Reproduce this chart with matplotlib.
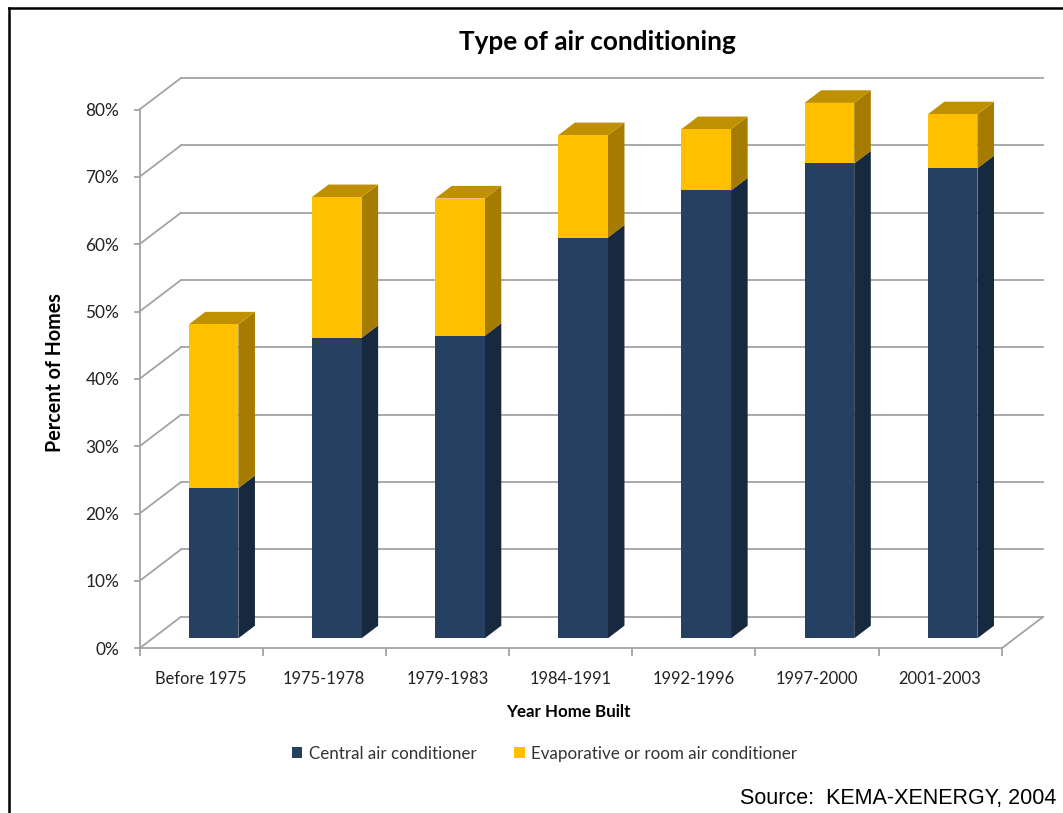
import matplotlib
matplotlib.use("Agg")
import matplotlib.pyplot as plt
from matplotlib.lines import Line2D
import numpy as np

categories = ['Before 1975', '1975-1978', '1979-1983', '1984-1991',
              '1992-1996', '1997-2000', '2001-2003']
central = [22.3, 44.6, 44.9, 59.5, 66.5, 70.5, 69.8]
evaporative = [24.3, 20.9, 20.4, 15.2, 9.1, 9.0, 8.0]
y_ticks = [0, 10, 20, 30, 40, 50, 60, 70, 80]

NAVY = ('#254061', '#17293f')
GOLD = ('#ffc000', '#a67c00', '#bf9000')
GRID = '#a3a3a3'

# oblique offset of the back wall, in axis units
DEPTH_X = 0.337
DEPTH_Y = 4.68
# where the bars stand between the front edge and the wall
BAR_NEAR = 0.30
BAR_FAR = 0.70
BAR_WIDTH = 0.403
BAR_RISE = 0.317 * DEPTH_Y

W, H = 1063, 813


def px_x(x):
    return x / W


def px_y(y):
    return 1 - y / H


def side_face(ax, right, low, high, color):
    # right hand face of a box, running back towards the wall
    dx = (BAR_FAR - BAR_NEAR) * DEPTH_X
    dy = (BAR_FAR - BAR_NEAR) * DEPTH_Y
    ax.fill([right, right + dx, right + dx, right],
            [low, low + dy, high + dy, high],
            color=color, lw=0, zorder=3, clip_on=False)


def top_face(ax, left, right, high, color):
    dx = (BAR_FAR - BAR_NEAR) * DEPTH_X
    dy = (BAR_FAR - BAR_NEAR) * DEPTH_Y
    ax.fill([left, right, right + dx, left + dx],
            [high, high, high + dy, high + dy],
            color=color, lw=0, zorder=3, clip_on=False)


def draw_walls(ax):
    for v in y_ticks:
        ax.plot([0, DEPTH_X], [v, v + DEPTH_Y], color=GRID, lw=1.3,
                clip_on=False, zorder=1)
        ax.plot([DEPTH_X, len(categories) + DEPTH_X],
                [v + DEPTH_Y, v + DEPTH_Y], color=GRID, lw=1.3,
                clip_on=False, zorder=1)
    # right edge of the floor
    ax.plot([len(categories), len(categories) + DEPTH_X], [0, DEPTH_Y],
            color=GRID, lw=1.3, clip_on=False, zorder=1)


def main():
    plt.rcParams['font.family'] = ['Lato', 'DejaVu Sans']
    fig = plt.figure(figsize=(W / 100, H / 100), dpi=100)
    ax = fig.add_axes([px_x(139.5), px_y(648.3), 862.2 / W, 538.8 / H])

    draw_walls(ax)

    slots = np.arange(len(categories))
    centers = slots + 0.5 + BAR_NEAR * DEPTH_X
    base = BAR_RISE
    central_arr = np.array(central)
    evap_arr = np.array(evaporative)

    bars_c = ax.bar(centers, central_arr, BAR_WIDTH, bottom=base,
                    color=NAVY[0], lw=0, zorder=4, clip_on=False,
                    label='Central air conditioner')
    bars_e = ax.bar(centers, evap_arr, BAR_WIDTH, bottom=base + central_arr,
                    color=GOLD[0], lw=0, zorder=4, clip_on=False,
                    label='Evaporative or room air conditioner')

    for c, low, mid in zip(centers, central_arr, evap_arr):
        left, right = c - BAR_WIDTH / 2, c + BAR_WIDTH / 2
        side_face(ax, right, base, base + low, NAVY[1])
        side_face(ax, right, base + low, base + low + mid, GOLD[1])
        top_face(ax, left, right, base + low + mid, GOLD[2])

    ax.set_xlim(0, len(categories))
    ax.set_ylim(0, 80)

    for name in ('top', 'right'):
        ax.spines[name].set_visible(False)
    for name in ('left', 'bottom'):
        ax.spines[name].set_color(GRID)
        ax.spines[name].set_linewidth(1.3)

    ax.set_yticks(y_ticks)
    ax.set_yticklabels([f'{v}%' for v in y_ticks])
    ax.tick_params(axis='y', length=4, width=1.3, color=GRID, pad=10.5,
                   labelsize=12.4, labelcolor='#222222')

    # boundaries get the tick marks, the names sit between them
    ax.set_xticks(slots.tolist() + [len(categories)])
    ax.set_xticklabels([])
    ax.set_xticks(slots + 0.5, minor=True)
    ax.set_xticklabels(categories, minor=True)
    ax.tick_params(axis='x', which='major', length=6, width=1.3, color=GRID)
    ax.tick_params(axis='x', which='minor', length=0, pad=16.5,
                   labelsize=11.9, labelcolor='#222222')

    fig.text(px_x(597), px_y(42), 'Type of air conditioning', ha='center',
             va='center', fontsize=18.8, fontweight='bold', color='black')
    fig.text(px_x(568), px_y(712), 'Year Home Built', ha='center',
             va='center', fontsize=12.2, fontweight='bold', color='black')
    fig.text(px_x(55), px_y(372.5), 'Percent of Homes', ha='center',
             va='center', rotation=90, fontsize=14.2, fontweight='bold',
             color='black')
    fig.text(px_x(1056), px_y(798), 'Source:  KEMA-XENERGY, 2004', ha='right',
             va='center', fontsize=15.5, family='Liberation Sans',
             color='black')

    fig.legend(handles=[bars_c, bars_e], ncol=2, frameon=False, fontsize=12.25,
               loc='center', bbox_to_anchor=(px_x(544.5), px_y(753.5)),
               handlelength=0.62, handleheight=0.62, handletextpad=0.4,
               columnspacing=2.2, labelcolor='#333333')

    # page frame, open on the right and at the bottom
    fig.add_artist(Line2D([px_x(8.5), px_x(8.5)], [0, px_y(8)], color='black',
                          lw=1.8))
    fig.add_artist(Line2D([px_x(8.5), 1], [px_y(8), px_y(8)], color='black',
                          lw=1.8))

    fig.savefig('out.png', dpi=100)


if __name__ == "__main__":
    main()
